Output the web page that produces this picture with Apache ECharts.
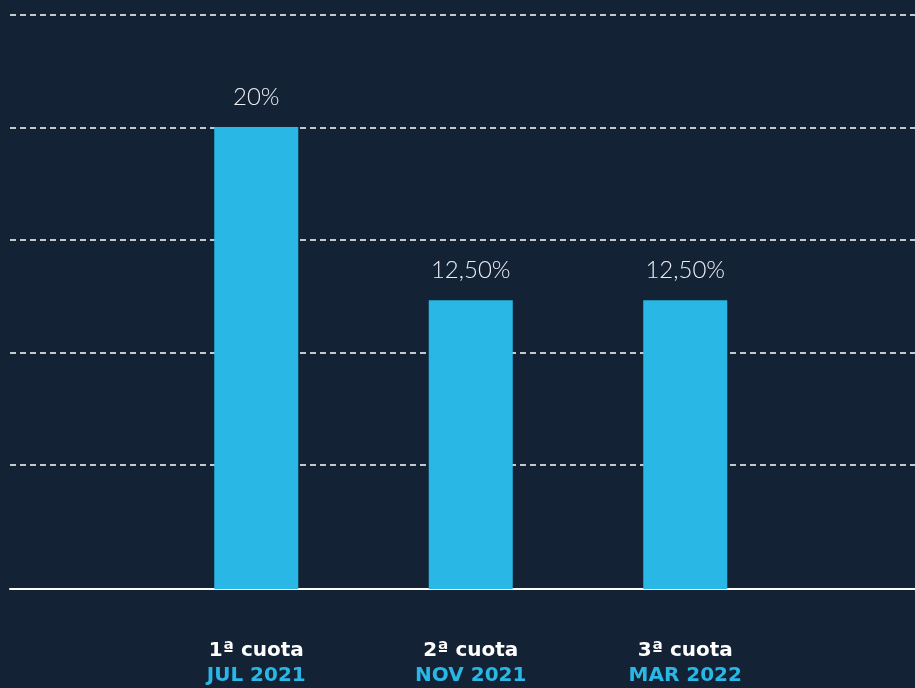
<!DOCTYPE html>
<html>
<head>
<meta charset="utf-8">
<script src="https://cdn.jsdelivr.net/npm/echarts@6/dist/echarts.min.js"></script>
<style>
  html, body { margin: 0; padding: 0; background: #142236; }
  #cuotas-chart { width: 915px; height: 688px; }
</style>
</head>
<body>
<div id="cuotas-chart"></div>
<script>
// datos
var cuotas = ['1ª cuota', '2ª cuota', '3ª cuota'];
var fechas = ['JUL 2021', 'NOV 2021', 'MAR 2022'];
var porcentajes = [20, 12.5, 12.5];
// lineas de referencia (solo guía visual)
var guias = [0, 1, 2, 3, 4];

var myChart = echarts.init(document.getElementById('cuotas-chart'));

var option = {
  backgroundColor: '#142236',
  animation: false,
  grid: [
    // lineas discontinuas + eje horizontal
    { left: 10, right: 0, top: 15, height: 450 },
    // barras
    { left: 149, width: 643.5, top: 15, bottom: 99 }
  ],
  xAxis: [
    {
      type: 'category',
      gridIndex: 0,
      data: guias,
      position: 'bottom',
      offset: 124,
      axisLine: { show: true, onZero: false, lineStyle: { color: '#ffffff', width: 2 } },
      axisTick: { show: false },
      axisLabel: { show: false },
      splitLine: { show: false }
    },
    {
      type: 'category',
      gridIndex: 1,
      data: cuotas,
      axisLine: { show: false },
      axisTick: { show: false },
      axisLabel: {
        margin: 49,
        formatter: function (value, idx) {
          return '{c|' + value + '}\n{f|' + fechas[idx] + '}';
        },
        rich: {
          c: { color: '#ffffff', fontFamily: 'DejaVu Sans', fontWeight: 'bold', fontSize: 20, lineHeight: 25 },
          f: { color: '#29b8e5', fontFamily: 'DejaVu Sans', fontWeight: 'bold', fontSize: 20, lineHeight: 25 }
        }
      }
    }
  ],
  yAxis: [
    {
      type: 'value',
      gridIndex: 0,
      min: 0,
      max: 4,
      interval: 1,
      axisLine: { show: false },
      axisTick: { show: false },
      axisLabel: { show: false },
      splitLine: {
        show: true,
        lineStyle: { color: '#ffffff', width: 1.5, type: [6, 4] }
      }
    },
    {
      type: 'value',
      gridIndex: 1,
      min: 0,
      max: 24.85,
      axisLine: { show: false },
      axisTick: { show: false },
      axisLabel: { show: false },
      splitLine: { show: false }
    }
  ],
  series: [
    {
      name: 'Cuota',
      type: 'bar',
      xAxisIndex: 1,
      yAxisIndex: 1,
      barWidth: 84,
      itemStyle: { color: '#29b8e5' },
      label: {
        show: true,
        position: 'top',
        distance: 18,
        color: '#eceef1',
        fontFamily: 'Lato',
        fontWeight: 300,
        fontSize: 24,
        formatter: function (p) {
          return p.value === 20 ? '20%' : p.value.toFixed(2).replace('.', ',') + '%';
        }
      },
      data: porcentajes
    }
  ]
};

myChart.setOption(option);

window.addEventListener('resize', function () {
  myChart.resize();
});
</script>
</body>
</html>
